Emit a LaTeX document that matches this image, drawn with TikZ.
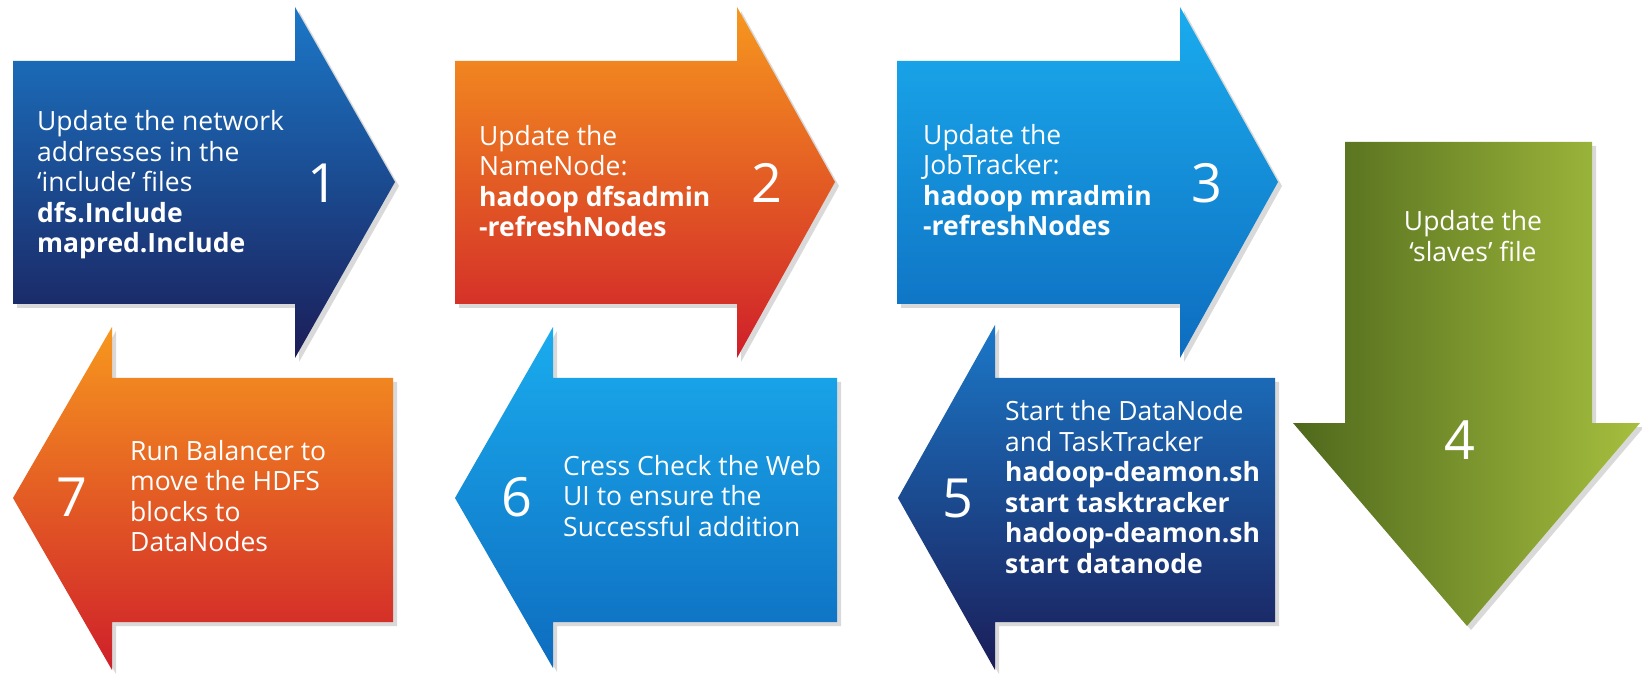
\documentclass[tikz,border=0pt]{standalone}
\usepackage{fontspec}
\setmainfont{Open Sans}
\definecolor{navyT}{HTML}{1B78C8}
\definecolor{navyM}{HTML}{1A52A2}
\definecolor{navyB}{HTML}{1B1D58}
\definecolor{orT}{HTML}{F7981E}
\definecolor{orM}{HTML}{F07A22}
\definecolor{orB}{HTML}{CF1F2A}
\definecolor{skyT}{HTML}{1AACEE}
\definecolor{skyM}{HTML}{1898E0}
\definecolor{skyB}{HTML}{0E6CBF}
\definecolor{olL}{HTML}{4E681C}
\definecolor{olR}{HTML}{A6BF3E}
\begin{document}
\begin{tikzpicture}[x=1pt,y=-1pt,
  shad/.style={preaction={fill=black,opacity=0.15,transform canvas={shift={(4pt,-4pt)}}}},
  navy/.style={shad,top color=navyT,middle color=navyM,bottom color=navyB},
  orng/.style={shad,top color=orT,middle color=orM,bottom color=orB},
  sky/.style={shad,top color=skyT,middle color=skyM,bottom color=skyB},
  olive/.style={shad,left color=olL,right color=olR},
  txt/.style={text=white,align=left,anchor=west,inner sep=0pt,font=\fontsize{26.5}{30.5}\selectfont},
  ctxt/.style={text=white,align=center,anchor=center,inner sep=0pt,font=\fontsize{26.5}{31}\selectfont},
  num/.style={text=white,inner sep=0pt,font=\fontsize{54}{54}\selectfont}]
\useasboundingbox (0,0) rectangle (1642,676);
\fill[white] (0,0) rectangle (1642,676);
% arrow 1
\shade[navy] (13,61) -- (295,61) -- (295,7) -- (395,182) -- (295,358) -- (295,304) -- (13,304) -- cycle;
% arrow 2
\shade[orng] (455,61) -- (737,61) -- (737,7) -- (835,182) -- (737,358) -- (737,304) -- (455,304) -- cycle;
% arrow 3
\shade[sky] (897,61) -- (1180,61) -- (1180,7) -- (1278,182) -- (1180,358) -- (1180,304) -- (897,304) -- cycle;
% arrow 4
\shade[olive] (1345,142) -- (1592,142) -- (1592,423) -- (1640,423) -- (1467,626) -- (1293,423) -- (1345,423) -- cycle;
% arrow 5
\shade[navy] (1275,378) -- (995,378) -- (995,325) -- (898,498) -- (995,670) -- (995,622) -- (1275,622) -- cycle;
% arrow 6
\shade[sky] (837,378) -- (553,378) -- (553,327) -- (455,498) -- (553,668) -- (553,622) -- (837,622) -- cycle;
% arrow 7
\shade[orng] (393,378) -- (112,378) -- (112,327) -- (13,498) -- (112,670) -- (112,622) -- (393,622) -- cycle;

\node[txt] (t1) at (37,185) {Update the network\\addresses in the\\‘include’ files\\\textbf{dfs.Include}\\\textbf{mapred.Include}};
\node[num] (n1) at (323,183) {1};
\node[txt] (t2) at (479,181) {Update the\\NameNode:\\\textbf{hadoop dfsadmin}\\\textbf{-refreshNodes}};
\node[num] (n2) at (767,183) {2};
\node[txt] (t3) at (923,180) {Update the\\JobTracker:\\\textbf{hadoop mradmin}\\\textbf{-refreshNodes}};
\node[num] (n3) at (1207,183) {3};
\node[ctxt] (t4) at (1473,236) {Update the\\‘slaves’ file};
\node[num] (n4) at (1460,440) {4};
\node[txt] (t5) at (1005,487) {Start the DataNode\\and TaskTracker\\\textbf{hadoop-deamon.sh}\\\textbf{start tasktracker}\\\textbf{hadoop-deamon.sh}\\\textbf{start datanode}};
\node[num] (n5) at (958,498) {5};
\node[txt] (t6) at (563,496) {Cress Check the Web\\UI to ensure the\\Successful addition};
\node[num] (n6) at (517,497) {6};
\node[txt] (t7) at (130,496) {Run Balancer to\\move the HDFS\\blocks to\\DataNodes};
\node[num] (n7) at (72,497) {7};
\end{tikzpicture}
\end{document}
